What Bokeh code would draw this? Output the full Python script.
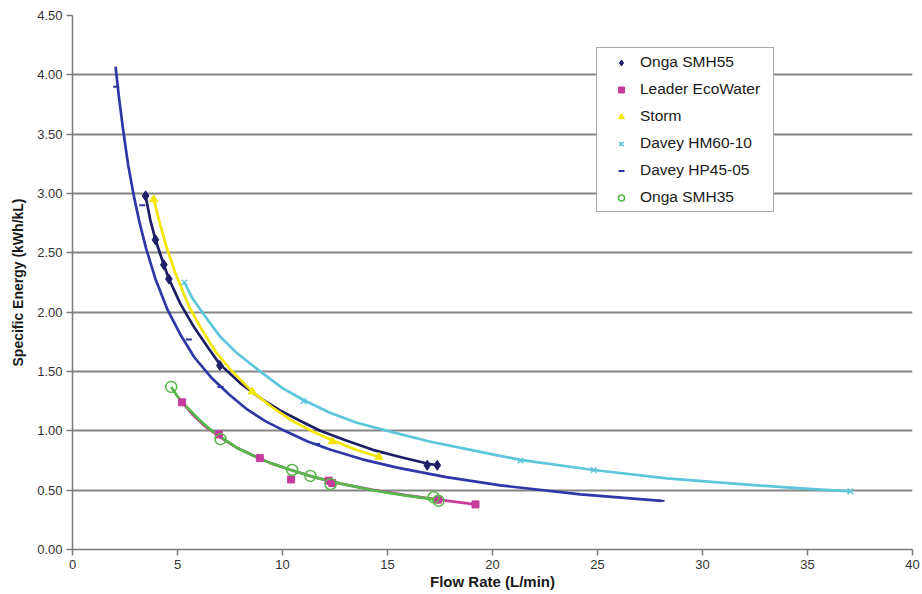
from bokeh.plotting import figure
from bokeh.models import Range1d, FixedTicker, NumeralTickFormatter
from bokeh.embed import file_html
from bokeh.resources import INLINE

# ---------------- data ----------------
x_ticks = [0, 5, 10, 15, 20, 25, 30, 35, 40]
y_ticks = [0.0, 0.5, 1.0, 1.5, 2.0, 2.5, 3.0, 3.5, 4.0, 4.5]

series_names = ["Onga SMH55", "Leader EcoWater", "Storm",
                "Davey HM60-10", "Davey HP45-05", "Onga SMH35"]

# Onga SMH55 (curve, markers = data points)
smh55_line_x = [3.48, 3.7, 3.95, 4.35, 4.59, 5.14, 5.8, 6.5, 7.02, 8.0, 9.0, 9.9, 11.0, 11.8, 13.0, 14.3, 15.6, 16.89, 17.37]
smh55_line_y = [2.98, 2.78, 2.61, 2.40, 2.28, 2.07, 1.87, 1.69, 1.56, 1.40, 1.27, 1.17, 1.07, 1.00, 0.92, 0.84, 0.78, 0.725, 0.71]
smh55_pts_x = [3.48, 3.95, 4.35, 4.59, 7.02, 16.89, 17.37]
smh55_pts_y = [2.98, 2.61, 2.40, 2.28, 1.55, 0.71, 0.71]

# Leader EcoWater
leader_line_x = [5.22, 5.7, 6.3, 7.0, 7.8, 8.5, 9.4, 10.4, 11.5, 12.76, 14.35, 15.8, 17.4, 19.19]
leader_line_y = [1.24, 1.14, 1.04, 0.95, 0.86, 0.80, 0.73, 0.67, 0.61, 0.555, 0.50, 0.46, 0.42, 0.38]
leader_pts_x = [5.22, 6.97, 8.92, 10.41, 12.2, 12.37, 17.4, 19.19]
leader_pts_y = [1.24, 0.97, 0.77, 0.59, 0.58, 0.56, 0.42, 0.38]

# Storm
storm_line_x = [3.87, 4.2, 4.51, 4.9, 5.54, 6.1, 6.8, 7.5, 8.56, 9.5, 10.5, 11.49, 12.37, 13.5, 14.59]
storm_line_y = [2.95, 2.72, 2.53, 2.33, 2.05, 1.87, 1.67, 1.52, 1.33, 1.20, 1.08, 0.99, 0.92, 0.84, 0.78]
storm_pts_x = [3.87, 8.56, 12.37, 14.59]
storm_pts_y = [2.95, 1.33, 0.91, 0.78]

# Davey HM60-10
hm60_line_x = [5.33, 5.7, 6.5, 7.05, 7.8, 8.87, 10.0, 11.0, 12.29, 13.5, 15.0, 17.0, 18.95, 21.33, 24.82, 28.3, 31.5, 34.67, 37.05]
hm60_line_y = [2.25, 2.12, 1.92, 1.79, 1.66, 1.51, 1.36, 1.26, 1.15, 1.07, 1.00, 0.91, 0.84, 0.755, 0.67, 0.60, 0.555, 0.515, 0.49]
hm60_pts_x = [5.33, 11.0, 21.33, 24.82, 37.05]
hm60_pts_y = [2.25, 1.25, 0.75, 0.67, 0.49]

# Davey HP45-05
hp45_line_x = [2.05, 2.2, 2.4, 2.65, 2.92, 3.2, 3.5, 3.95, 4.5, 5.14, 5.8, 6.6, 7.5, 8.32, 9.2, 10.1, 11.2, 12.29, 13.8, 15.46, 17.8, 20.38, 24.19, 28.05]
hp45_line_y = [4.07, 3.83, 3.55, 3.24, 2.98, 2.75, 2.54, 2.28, 2.03, 1.81, 1.62, 1.45, 1.30, 1.18, 1.08, 1.00, 0.91, 0.84, 0.76, 0.69, 0.61, 0.54, 0.465, 0.41]
hp45_pts_x = [2.08, 3.32, 5.54, 7.05, 11.65, 28.05]
hp45_pts_y = [3.90, 2.90, 1.77, 1.37, 0.89, 0.41]

# Onga SMH35
smh35_line_x = [4.70, 5.0, 5.5, 6.0, 6.57, 7.05, 7.8, 8.5, 9.4, 10.4, 11.5, 12.76, 14.35, 15.8, 17.3]
smh35_line_y = [1.37, 1.29, 1.19, 1.10, 1.01, 0.95, 0.86, 0.80, 0.73, 0.67, 0.61, 0.555, 0.497, 0.456, 0.42]
smh35_pts_x = [4.70, 7.05, 10.46, 11.33, 12.29, 17.2, 17.43]
smh35_pts_y = [1.37, 0.93, 0.67, 0.62, 0.55, 0.44, 0.41]

x_title = "Flow Rate (L/min)"
y_title = "Specific Energy (kWh/kL)"

# ---------------- styling ----------------
FONT = "Liberation Sans"
c_smh55 = "#1E1E66"
c_leader = "#C63B9C"
c_storm = "#F4E600"
c_hm60 = "#5EC6DA"
c_hp45 = "#2F37A6"
c_smh35 = "#55B848"
grid_c = "#858585"
axis_c = "#7A7A7A"

p = figure(width=920, height=594,
           x_range=Range1d(0, 40), y_range=Range1d(0, 4.5),
           output_backend="svg", toolbar_location=None,
           min_border_left=72, min_border_right=8,
           min_border_top=15, min_border_bottom=45)

p.background_fill_color = "white"
p.border_fill_color = "white"
p.outline_line_color = None
p.xgrid.visible = False
p.ygrid.grid_line_color = grid_c
p.ygrid.grid_line_width = 2

p.xaxis.ticker = FixedTicker(ticks=x_ticks)
p.yaxis.ticker = FixedTicker(ticks=y_ticks)
p.yaxis.formatter = NumeralTickFormatter(format="0.00")
for ax in (p.xaxis, p.yaxis):
    ax.axis_line_color = axis_c
    ax.axis_line_width = 1.5
    ax.major_tick_line_color = axis_c
    ax.major_tick_line_width = 1.5
    ax.major_tick_out = 6
    ax.major_tick_in = 0
    ax.minor_tick_line_color = None
    ax.major_label_text_font = FONT
    ax.major_label_text_font_size = "13px"
    ax.major_label_text_color = "#333333"
    ax.major_label_standoff = 4
    ax.axis_label_text_font = FONT
    ax.axis_label_text_font_style = "bold"
    ax.axis_label_text_color = "#1A1A1A"

p.xaxis.axis_label = x_title
p.xaxis.axis_label_text_font_size = "15px"
p.xaxis.axis_label_standoff = 1
p.yaxis.axis_label = y_title
p.yaxis.axis_label_text_font_size = "14px"
p.yaxis.axis_label_standoff = 8

# ---------------- lines ----------------
lw = 2.7
p.line(smh55_line_x, smh55_line_y, line_color=c_smh55, line_width=lw, line_join="round")
p.line(leader_line_x, leader_line_y, line_color=c_leader, line_width=lw, line_join="round")
p.line(storm_line_x, storm_line_y, line_color=c_storm, line_width=lw, line_join="round")
p.line(hm60_line_x, hm60_line_y, line_color=c_hm60, line_width=lw, line_join="round")
p.line(hp45_line_x, hp45_line_y, line_color=c_hp45, line_width=lw, line_join="round")
p.line(smh35_line_x, smh35_line_y, line_color=c_smh35, line_width=lw, line_join="round")

# ---------------- markers ----------------
p.scatter(smh55_pts_x, smh55_pts_y, marker="diamond", size=10,
          fill_color=c_smh55, line_color=c_smh55, legend_label=series_names[0])
p.scatter(leader_pts_x, leader_pts_y, marker="square", size=7,
          fill_color=c_leader, line_color=c_leader, legend_label=series_names[1])
p.scatter(storm_pts_x, storm_pts_y, marker="triangle", size=8,
          fill_color=c_storm, line_color=c_storm, legend_label=series_names[2])
p.scatter(hm60_pts_x, hm60_pts_y, marker="x", size=8, line_width=1.5,
          line_color=c_hm60, legend_label=series_names[3])
p.scatter(hp45_pts_x, hp45_pts_y, marker="dash", size=6, line_width=2,
          line_color=c_hp45, legend_label=series_names[4])
p.scatter(smh35_pts_x, smh35_pts_y, marker="circle", size=11, line_width=1.5,
          fill_color=None, line_color=c_smh35, legend_label=series_names[5])

# ---------------- legend ----------------
lg = p.legend[0]
lg.location = (524, 337)
lg.padding = 5
lg.spacing = 9
lg.label_height = 15
lg.glyph_height = 15
lg.glyph_width = 38
lg.label_standoff = 0
lg.label_width = 128
lg.margin = 0
lg.label_text_font = FONT
lg.label_text_font_size = "15.5px"
lg.label_text_color = "#1A1A1A"
lg.border_line_color = "#555555"
lg.border_line_width = 1.5
lg.background_fill_color = "white"
lg.background_fill_alpha = 1.0

open("out.html", "w").write(file_html(p, INLINE))
